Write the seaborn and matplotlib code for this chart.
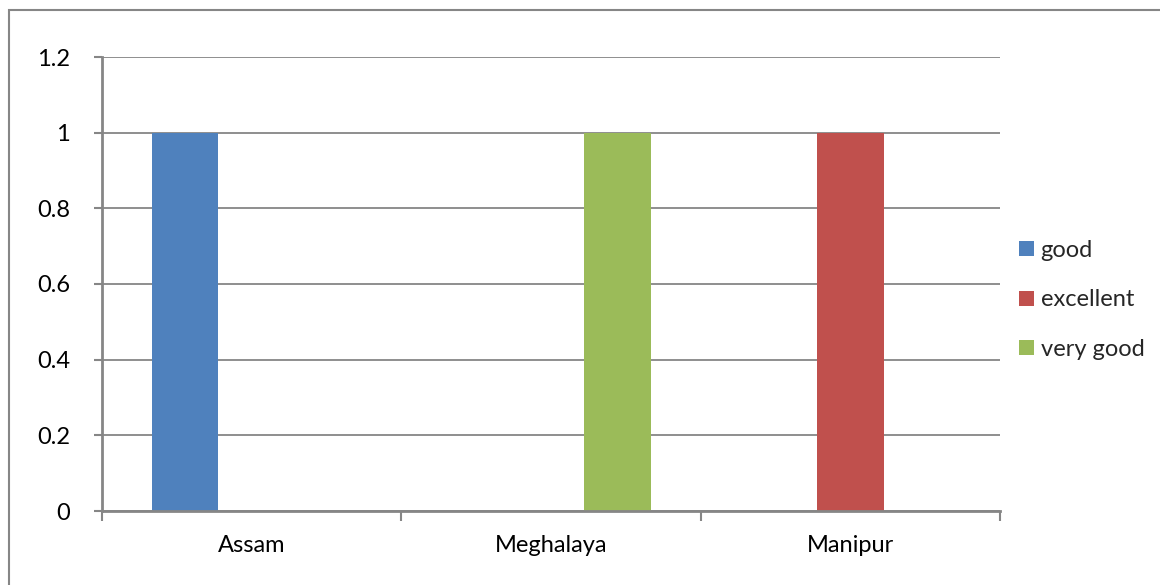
import matplotlib
matplotlib.use("Agg")
import matplotlib.pyplot as plt
from matplotlib.patches import Rectangle, Patch
import seaborn as sns
import pandas as pd

# Ratings by state
states = ["Assam", "Meghalaya", "Manipur"]
series = ["good", "excellent", "very good"]
good = [1, 0, 0]
excellent = [0, 0, 1]
very_good = [0, 1, 0]
colors = ["#4F81BD", "#C0504D", "#9BBB59"]
yticks = [0, 0.2, 0.4, 0.6, 0.8, 1, 1.2]
ytick_labels = ["0", "0.2", "0.4", "0.6", "0.8", "1", "1.2"]

rows = []
for name, vals in zip(series, [good, excellent, very_good]):
    for st, v in zip(states, vals):
        rows.append({"state": st, "rating": name, "value": v})
df = pd.DataFrame(rows)

sns.set_style("white")
plt.rcParams["font.family"] = ["Lato", "DejaVu Sans"]

W, H = 1160, 585
fig = plt.figure(figsize=(W / 100, H / 100), dpi=100)
ax = fig.add_axes([102 / W, 1 - 511 / H, (1000 - 102) / W, (511 - 57) / H])

sns.barplot(data=df, x="state", y="value", hue="rating", order=states,
            hue_order=series, palette=colors, width=2 / 3, gap=0,
            saturation=1, legend=False, ax=ax, errorbar=None, linewidth=0)

grid_c = "#868686"
ax.set_xlim(-0.5, 2.5)
ax.set_ylim(0, 1.2)
ax.set_yticks(yticks)
ax.set_yticklabels(ytick_labels)
ax.yaxis.grid(True, color=grid_c, linewidth=1.3)
ax.set_axisbelow(True)
ax.set_xlabel("")
ax.set_ylabel("")

# Category ticks sit on the boundaries between clusters
ax.set_xticks([0, 1, 2])
ax.set_xticks([-0.5, 0.5, 1.5, 2.5], minor=True)
ax.tick_params(axis="x", which="major", bottom=False, length=0, pad=17,
               labelsize=17, labelcolor="black")
ax.tick_params(axis="x", which="minor", bottom=True, length=7, width=1.5,
               color=grid_c, direction="out")
ax.tick_params(axis="y", left=True, length=6, width=1.5, color=grid_c,
               direction="out", pad=17, labelsize=17, labelcolor="black")

for side in ["top", "right"]:
    ax.spines[side].set_visible(False)
for side in ["left", "bottom"]:
    ax.spines[side].set_color(grid_c)
    ax.spines[side].set_linewidth(2)

handles = [Patch(facecolor=c, edgecolor="none") for c in colors]
fig.legend(handles, series, loc="center left",
           bbox_to_anchor=(1010 / W, 1 - 300 / H), frameon=False,
           fontsize=17, handlelength=0.6, handleheight=0.6,
           handletextpad=0.3, labelspacing=1.22, borderaxespad=0)

# Chart area border (runs off the right and bottom edges)
fig.patches.append(Rectangle((9 / W, 1 - 620 / H), (1200 - 9) / W,
                             (620 - 10) / H, transform=fig.transFigure,
                             fill=False, edgecolor=grid_c, linewidth=1.5))

fig.savefig("out.png", dpi=100)
